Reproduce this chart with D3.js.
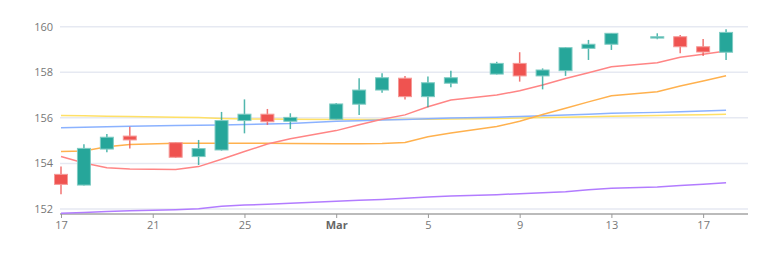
<!DOCTYPE html>
<html>
<head>
	<meta charset="UTF-8" />
	<title>candles</title>
	<script src="https://d3js.org/d3.v7.min.js"></script>
	<style>
		body { margin: 0; background: #fff; }
		text { font-family: "Open Sans", sans-serif; }
	</style>
</head>
<body>
	<svg id="chart" width="770" height="271"></svg>

	<script type="text/javascript">
	// dates of the candles (trading days, weekly gap)
	var dates = ["2023-02-17","2023-02-18","2023-02-19","2023-02-20","2023-02-22","2023-02-23","2023-02-24","2023-02-25","2023-02-26","2023-02-27",
		"2023-03-01","2023-03-02","2023-03-03","2023-03-04","2023-03-05","2023-03-06","2023-03-08","2023-03-09","2023-03-10","2023-03-11",
		"2023-03-12","2023-03-13","2023-03-15","2023-03-16","2023-03-17","2023-03-18"]
	var open  = [153.52,153.05,154.63,155.20,154.91,154.30,154.59,155.88,156.16,155.85,155.94,156.60,157.22,157.74,156.93,157.52,157.92,158.39,157.84,158.07,159.05,159.23,159.50,159.56,159.12,158.88]
	var high  = [153.86,154.84,155.29,155.61,154.93,155.03,156.26,156.81,156.39,156.20,156.65,157.74,157.96,157.84,157.81,158.07,158.46,158.88,158.17,159.11,159.42,159.72,159.71,159.64,159.46,159.89]
	var low   = [152.65,153.03,154.49,154.66,154.24,153.93,154.56,155.32,155.69,155.51,155.93,156.13,157.10,156.81,156.46,157.34,157.90,157.59,157.25,157.84,158.54,158.98,159.45,158.83,158.71,158.54]
	var close = [153.08,154.66,155.15,155.03,154.27,154.65,155.88,156.16,155.83,156.02,156.61,157.22,157.76,156.93,157.54,157.76,158.39,157.84,158.10,159.08,159.23,159.71,159.56,159.12,158.89,159.75]

	// moving averages
	var maRed    = [154.30,154.02,153.81,153.75,153.73,153.86,154.18,154.52,154.85,155.08,155.44,155.70,155.94,156.13,156.49,156.78,157.00,157.19,157.44,157.73,157.98,158.24,158.42,158.66,158.79,158.93]
	var maOrange = [154.52,154.55,154.73,154.83,154.88,154.88,154.88,154.89,154.88,154.87,154.86,154.86,154.87,154.92,155.17,155.33,155.62,155.85,156.15,156.42,156.70,156.97,157.15,157.40,157.62,157.85]
	var maBlue   = [155.57,155.59,155.61,155.63,155.66,155.68,155.69,155.71,155.73,155.75,155.85,155.87,155.90,155.93,155.96,155.99,156.03,156.06,156.09,156.12,156.16,156.20,156.24,156.27,156.30,156.33]
	var maYellow = [156.10,156.09,156.07,156.06,156.03,156.01,155.97,155.95,155.95,155.94,155.93,155.93,155.93,155.94,155.94,155.95,155.97,155.99,156.01,156.03,156.05,156.07,156.10,156.12,156.14,156.16]
	var maPurple = [151.81,151.85,151.89,151.92,151.97,152.01,152.12,152.17,152.21,152.25,152.34,152.38,152.42,152.47,152.53,152.57,152.63,152.67,152.71,152.76,152.84,152.91,152.97,153.03,153.09,153.15]

	var yTicks = [152, 154, 156, 158, 160]
	var xTicks = ["2023-02-17","2023-02-21","2023-02-25","2023-03-01","2023-03-05","2023-03-09","2023-03-13","2023-03-17"]

	var parse = d3.utcParse("%Y-%m-%d")
	var up = "#26a69a", down = "#ef5350"

	var svg = d3.select("#chart")

	var x = d3.scaleUtc().domain([parse("2023-02-17"), parse("2023-03-19")]).range([61, 749])
	var y = d3.scaleLinear().domain([151.78, 160]).range([214, 26.7])

	// grid
	svg.append("g").selectAll("line")
		.data(yTicks).enter().append("line")
		.attr("x1", 60).attr("x2", 748)
		.attr("y1", d=>y(d)).attr("y2", d=>y(d))
		.style("stroke", "#e6e9f2").style("stroke-width", "1.5px")

	// y labels
	svg.append("g").selectAll("text")
		.data(yTicks).enter().append("text")
		.attr("x", 53).attr("y", d=>y(d)).attr("dy", "0.35em")
		.attr("text-anchor", "end")
		.style("font-size", "11px").style("fill", "#777")
		.text(d=>d)

	// x axis
	var xAxis = d3.axisBottom(x)
		.tickValues(xTicks.map(parse))
		.tickSize(4).tickPadding(3)
		.tickFormat(d=> d.getUTCDate() == 1 ? d3.utcFormat("%b")(d) : d3.utcFormat("%-d")(d))
	var gx = svg.append("g").attr("transform", "translate(0,214)").call(xAxis)
	gx.select(".domain").attr("d", "M60,0H748").style("stroke", "#bbb").style("stroke-width", "2px")
	gx.selectAll(".tick line").style("stroke", "#999")
	gx.selectAll(".tick text")
		.style("font-size", "11px").style("font-family", "Open Sans, sans-serif")
		.style("fill", d=> d.getUTCDate() == 1 ? "#666" : "#777")
		.style("font-weight", d=> d.getUTCDate() == 1 ? "bold" : "normal")

	// moving average lines
	var series = [
		{vals: maPurple, color: "#b27cff"},
		{vals: maYellow, color: "#ffe066"},
		{vals: maBlue, color: "#8bb2ff"},
		{vals: maOrange, color: "#ffb14e"},
		{vals: maRed, color: "#ff8585"}
	]
	var line = d3.line().x((d,i)=>x(parse(dates[i]))).y(d=>y(d))
	svg.append("g").selectAll("path")
		.data(series).enter().append("path")
		.attr("d", d=>line(d.vals))
		.style("fill", "none")
		.style("stroke", d=>d.color)
		.style("stroke-width", "1.5px")

	// candles
	var candles = dates.map((d,i)=>({date: parse(d), o: open[i], h: high[i], l: low[i], c: close[i]}))
	var cw = 13
	var g = svg.append("g").selectAll("g.candle")
		.data(candles).enter().append("g").attr("class", "candle")
	g.append("line")
		.attr("x1", d=>x(d.date)).attr("x2", d=>x(d.date))
		.attr("y1", d=>y(d.h)).attr("y2", d=>y(d.l))
		.style("stroke", d=> d.c >= d.o ? up : down)
		.style("stroke-width", "1.5px").style("opacity", 0.8)
	g.append("rect")
		.attr("x", d=>x(d.date) - cw/2)
		.attr("width", cw)
		.attr("y", d=>y(Math.max(d.o, d.c)))
		.attr("height", d=>Math.max(1, Math.abs(y(d.o) - y(d.c))))
		.style("fill", d=> d.c >= d.o ? up : down)
		.style("stroke", d=> d.c >= d.o ? "#7fcbc3" : "#f59a98")
		.style("stroke-width", "1px")
	</script>
</body>
</html>
